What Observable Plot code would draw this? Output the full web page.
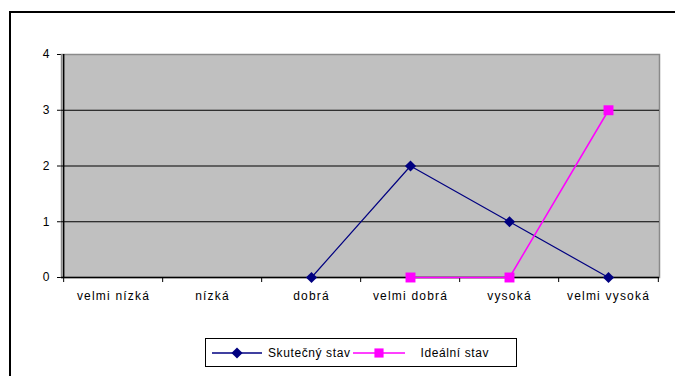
<!DOCTYPE html>
<html><head><meta charset="utf-8">
<script src="https://cdn.jsdelivr.net/npm/d3@7"></script>
<script src="https://cdn.jsdelivr.net/npm/@observablehq/plot@0.6"></script>
<style>
body{margin:0;background:#fff;width:675px;height:376px;overflow:hidden;position:relative;font-family:"Liberation Sans",Arial,sans-serif;}
#frame{position:absolute;left:9px;top:11px;width:700px;height:400px;border-left:2px solid #000;border-top:2px solid #000;}
#chart{position:absolute;left:0;top:0;}
#chart svg text{letter-spacing:1.2px;}
#legend{position:absolute;left:205px;top:338px;width:312px;height:29px;border:1px solid #000;box-sizing:border-box;background:#fff;display:flex;align-items:center;font-size:12px;letter-spacing:0.6px;}
#legend .item{display:flex;align-items:center;}
#legend svg{display:block;}
</style></head>
<body>
<div id="frame"></div>
<div id="chart"></div>
<div id="legend"></div>
<script>
const categories = ["velmi nízká","nízká","dobrá","velmi dobrá","vysoká","velmi vysoká"];
const actualCats = ["dobrá","velmi dobrá","vysoká","velmi vysoká"];
const actualValues = [0,2,1,0];
const idealCats = ["velmi dobrá","vysoká","velmi vysoká"];
const idealValues = [0,0,3];
const yTicks = [0,1,2,3,4];
const gridValues = [1,2,3];
const seriesNames = ["Skutečný stav","Ideální stav"];
const seriesColors = ["#000080","#ff00ff"];
const seriesSymbols = ["diamond2","square"];

const actual = actualCats.map((c,i)=>({cat:c, value:actualValues[i]}));
const ideal = idealCats.map((c,i)=>({cat:c, value:idealValues[i]}));

const W = 675, H = 320, mL = 61, mR = 16, mT = 54, mB = 43;
const step = (W - mL - mR) / categories.length;

const chart = Plot.plot({
  width: W, height: H,
  marginLeft: mL, marginRight: mR, marginTop: mT, marginBottom: mB,
  style: {fontSize: "12px", fontFamily: "'Liberation Sans', Arial, sans-serif", background: "transparent", color: "#000"},
  x: {type: "point", domain: categories, padding: 0.5, tickSize: 0, tickPadding: 14, label: null},
  y: {domain: [0,4], ticks: yTicks, tickSize: 4, tickPadding: 7, label: null, tickFormat: d => d},
  marks: [
    Plot.frame({fill: "#c0c0c0", stroke: "#8a8a8a", strokeWidth: 1.5}),
    Plot.ruleY(gridValues, {stroke: "#000", strokeWidth: 1.2}),
    Plot.ruleY([0], {stroke: "#000", strokeWidth: 1.5}),
    Plot.ruleX([categories[0]], {y1: 0, y2: 4, dx: -step/2, stroke: "#000", strokeWidth: 1.5}),
    Plot.ruleX(categories, {y1: 0, y2: -0.09, dx: -step/2, stroke: "#000"}),
    Plot.ruleX([categories[categories.length-1]], {y1: 0, y2: -0.09, dx: step/2, stroke: "#000"}),
    Plot.line(actual, {x: "cat", y: "value", stroke: seriesColors[0], strokeWidth: 1.2}),
    Plot.line(ideal, {x: "cat", y: "value", stroke: seriesColors[1], strokeWidth: 1.5}),
    Plot.dot(actual, {x: "cat", y: "value", symbol: seriesSymbols[0], r: 5, fill: seriesColors[0], stroke: "none"}),
    Plot.dot(ideal, {x: "cat", y: "value", symbol: seriesSymbols[1], r: 5.6, fill: seriesColors[1], stroke: "none"})
  ]
});
document.getElementById("chart").appendChild(chart);

const legend = document.getElementById("legend");
const symbolFns = {diamond2: d3.symbolDiamond2, square: d3.symbolSquare};
const symbolSizes = [Math.PI*25, Math.PI*5.6*5.6*0.85];
const widths = [50, 52];
const gaps = [6, 16];
const leftPads = [6, 2];
seriesNames.forEach((name, i) => {
  const item = document.createElement("div");
  item.className = "item";
  item.style.marginLeft = leftPads[i] + "px";
  const w = widths[i];
  const svg = d3.create("svg").attr("width", w).attr("height", 12);
  svg.append("line").attr("x1", 0).attr("x2", w).attr("y1", 6).attr("y2", 6).attr("stroke", seriesColors[i]).attr("stroke-width", 1.5);
  svg.append("path").attr("d", d3.symbol(symbolFns[seriesSymbols[i]], symbolSizes[i])()).attr("transform", `translate(${w/2},6)`).attr("fill", seriesColors[i]);
  item.appendChild(svg.node());
  const t = document.createElement("span");
  t.textContent = name;
  t.style.marginLeft = gaps[i] + "px";
  item.appendChild(t);
  legend.appendChild(item);
});
</script>
</body></html>
